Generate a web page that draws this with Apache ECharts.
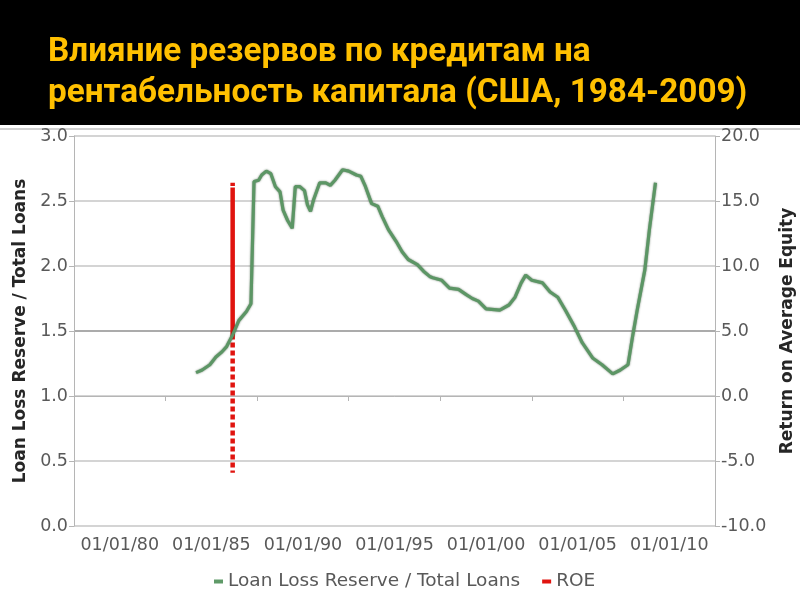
<!DOCTYPE html>
<html>
<head>
<meta charset="utf-8">
<script src="https://cdn.jsdelivr.net/npm/echarts@6/dist/echarts.min.js"></script>
<style>
html,body{margin:0;padding:0;background:#fff;}
#chart{width:800px;height:600px;}
</style>
</head>
<body>
<div id="chart"></div>
<script>
// ---- Data ----
const titleText = 'Влияние резервов по кредитам на\nрентабельность капитала (США, 1984-2009)';
const leftAxisName = 'Loan Loss Reserve / Total Loans';
const rightAxisName = 'Return on Average Equity';
const xLabels = ['01/01/80','01/01/85','01/01/90','01/01/95','01/01/00','01/01/05','01/01/10'];

const llrDates = [
 '1984-03','1984-07','1984-12','1985-04','1985-08','1985-11','1986-03','1986-07','1986-12','1987-03',
 '1987-05','1987-08','1987-10','1988-01','1988-04','1988-07','1988-10','1988-12','1989-03','1989-06',
 '1989-08','1989-11','1990-02','1990-04','1990-06','1990-08','1990-12','1991-04','1991-07','1991-10',
 '1992-03','1992-07','1992-12','1993-03','1993-06','1993-10','1994-02','1994-05','1994-09','1995-02',
 '1995-06','1995-10','1996-04','1996-08','1996-12','1997-02','1997-08','1998-01','1998-07','1998-12',
 '1999-04','1999-08','2000-01','2000-10','2001-04','2001-08','2001-12','2002-03','2002-07','2003-02',
 '2003-07','2003-12','2004-05','2004-11','2005-04','2005-11','2006-05','2006-12','2007-05','2007-10',
 '2008-01','2008-04','2008-09','2008-12','2009-04'
];
const llrValues = [
 1.18,1.20,1.24,1.30,1.34,1.38,1.47,1.58,1.65,1.71,
 2.65,2.66,2.70,2.73,2.71,2.61,2.57,2.43,2.35,2.29,
 2.61,2.61,2.58,2.47,2.42,2.51,2.64,2.64,2.62,2.66,
 2.74,2.73,2.70,2.69,2.61,2.48,2.46,2.38,2.28,2.19,
 2.11,2.05,2.01,1.96,1.92,1.91,1.89,1.83,1.82,1.78,
 1.75,1.73,1.67,1.66,1.70,1.76,1.87,1.93,1.89,1.87,
 1.80,1.76,1.66,1.53,1.41,1.29,1.24,1.17,1.20,1.24,
 1.46,1.66,1.97,2.28,2.64
];

// ROE series (half-yearly, 1984-2009): in the source chart every point shares one date
const roeDate = '1986-03';
const roeValues = [
 10.5,10.8,11.0,11.3,10.2,9.6,4.4,6.0,12.8,13.4,
 9.0,6.8,8.2,6.9,7.6,8.3,12.4,13.2,15.1,15.6,
 14.8,14.4,14.9,14.5,14.7,14.3,14.9,14.6,14.2,13.6,
 15.6,16.4,14.3,13.6,13.8,12.4,14.6,14.3,15.2,14.8,
 13.8,12.6,12.9,11.9,12.8,11.8,10.9,4.8,2.6,0.4,
 -5.9
];

// ---- Chart ----
const chart = echarts.init(document.getElementById('chart'), null, {renderer:'canvas'});
const tickFont = {fontFamily:'DejaVu Sans', fontSize:17.5, color:'#595959'};
const nameFont = {fontFamily:'DejaVu Sans', fontSize:17, fontWeight:'bold', color:'#262626'};

chart.setOption({
  backgroundColor:'#ffffff',
  animation:false,
  graphic:[
    {type:'rect', z:-10, shape:{x:0,y:0,width:800,height:125}, style:{fill:'#000000'}},
    {type:'rect', z:-10, shape:{x:0,y:128,width:800,height:2}, style:{fill:'#d0d0d0'}}
  ],
  title:{
    text:titleText,
    left:48, top:32, padding:0,
    textStyle:{fontFamily:'Roboto', fontWeight:'bold', fontSize:33.3, lineHeight:41, color:'#FFC000'}
  },
  grid:{left:74, right:85, top:136, bottom:74, containLabel:false, outerBoundsMode:'none'},
  legend:{
    top:567, left:209,
    itemWidth:9, itemHeight:4, itemGap:22,
    textStyle:{fontFamily:'DejaVu Sans', fontSize:18.5, color:'#595959'},
    data:[{name:'Loan Loss Reserve / Total Loans', icon:'rect'},{name:'ROE', icon:'rect'}]
  },
  xAxis:[
    {type:'time', min:'1977-07-02', max:'2012-07-01', show:false},
    {type:'category', data:xLabels, position:'bottom', boundaryGap:true,
     axisLine:{show:true, lineStyle:{color:'#b5b5b5', width:1}},
     axisTick:{show:true, alignWithLabel:false, length:5, lineStyle:{color:'#b5b5b5'}},
     axisLabel:Object.assign({margin:10, interval:0}, tickFont),
     splitLine:{show:false}}
  ],
  yAxis:[
    {type:'value', min:0, max:3, interval:0.5, position:'left',
     name:leftAxisName, nameLocation:'middle', nameGap:43, nameRotate:90,
     nameTextStyle:nameFont,
     axisLine:{show:true, lineStyle:{color:'#b5b5b5'}},
     axisTick:{show:true, length:5, lineStyle:{color:'#b5b5b5'}},
     axisLabel:Object.assign({margin:6, formatter:v=>v.toFixed(1)}, tickFont),
     splitLine:{show:true, lineStyle:{color:['#c6c6c6','#c6c6c6','#c6c6c6','#8f8f8f','#c6c6c6','#c6c6c6','#c6c6c6'], width:1.5}}},
    {type:'value', min:-10, max:20, interval:5, position:'right',
     name:rightAxisName, nameLocation:'middle', nameGap:64, nameRotate:90,
     nameTextStyle:nameFont,
     axisLine:{show:true, lineStyle:{color:'#b5b5b5'}},
     axisTick:{show:true, length:5, lineStyle:{color:'#b5b5b5'}},
     axisLabel:Object.assign({margin:6, formatter:v=>v.toFixed(1)}, tickFont),
     splitLine:{show:false}}
  ],
  series:[
    {name:'Loan Loss Reserve / Total Loans', type:'line', xAxisIndex:0, yAxisIndex:0,
     data:llrDates.map((d,i)=>[d, llrValues[i]]),
     showSymbol:false, symbol:'none',
     color:'#5f9a68',
     lineStyle:{width:3.2, color:'#5c9665', shadowColor:'rgba(20,50,20,0.6)', shadowBlur:2},
     z:3},
    {name:'ROE', type:'line', xAxisIndex:0, yAxisIndex:1,
     data:roeValues.map(v=>[roeDate, v]),
     showSymbol:false, symbol:'none',
     color:'#e0140f',
     lineStyle:{width:4.5, color:'#e0140f', type:[5,3]},
     z:2}
  ]
});
</script>
</body>
</html>
